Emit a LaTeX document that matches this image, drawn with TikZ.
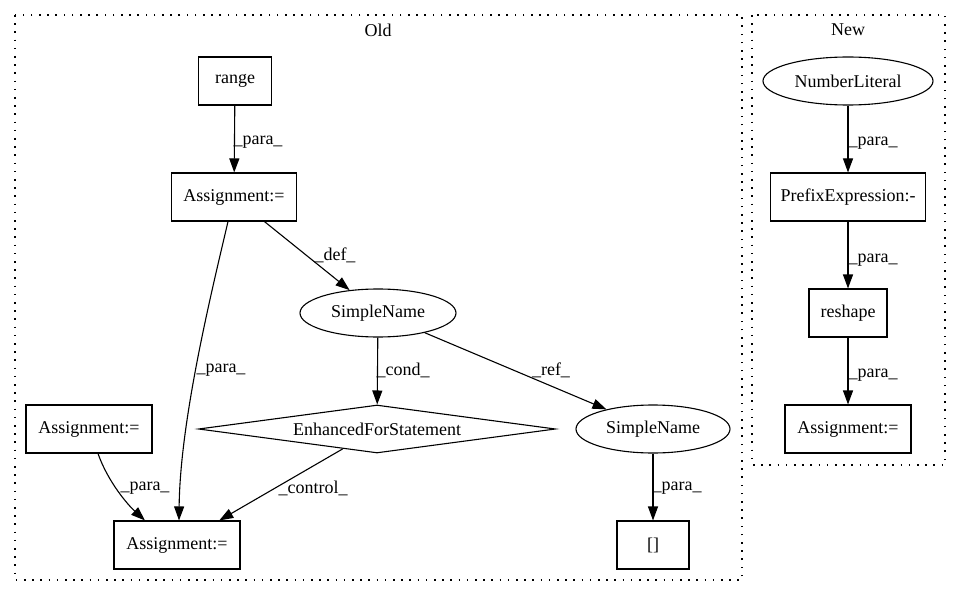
\documentclass[tikz,border=0pt]{standalone}
\usepackage{fontspec}
\setmainfont{Liberation Serif}
\usetikzlibrary{arrows.meta,shapes.geometric}
\begin{document}
\begin{tikzpicture}[x=1pt,y=-1pt,
  every node/.style={font=\fontsize{18}{20}\selectfont},
  box/.style={draw, line width=1.1pt, rectangle, minimum height=48pt, inner sep=0pt},
  ell/.style={draw, line width=1.1pt, ellipse, minimum height=48pt, inner sep=0pt},
  dia/.style={draw, line width=1.1pt, diamond, aspect=7.4, minimum width=357pt, minimum height=48pt, inner sep=0pt},
  edge/.style={line width=1.1pt, -{Triangle[length=14pt,width=10pt]}},
  lbl/.style={inner sep=0pt},
  clus/.style={line width=1.2pt, dash pattern=on 1.6pt off 6.6pt}]
\useasboundingbox (0,0) rectangle (960,596);
% clusters
\draw[clus] (15,15) rectangle (742,580);
\draw[clus] (752,15) rectangle (945,465);
\node[lbl] (oldlbl) at (378,30) {Old};
\node[lbl] (newlbl) at (848,30) {New};
% Old nodes
\node[box, minimum width=73pt] (range) at (235,81) {range};
\node[box, minimum width=125pt] (atop) at (234,197) {Assignment:=};
\node[ell, minimum width=156pt] (sn1) at (378,313) {SimpleName};
\node[dia] (efs) at (377,429) {EnhancedForStatement};
\node[ell, minimum width=154pt] (sn2) at (653,429) {SimpleName};
\node[box, minimum width=126pt] (aleft) at (89,429) {Assignment:=};
\node[box, minimum width=126pt] (abot) at (177,545) {Assignment:=};
\node[box, minimum width=72pt] (idx) at (653,545) {[]};
% New nodes
\node[ell, minimum width=170pt] (numlit) at (848,81) {NumberLiteral};
\node[box, minimum width=155pt] (prefix) at (848,197) {PrefixExpression:-};
\node[box, minimum width=78pt] (reshape) at (848,313) {reshape};
\node[box, minimum width=126pt] (anew) at (848,429) {Assignment:=};
% Old edges
\draw[edge] (range) -- (atop);
\node[lbl] (l1) at (258,142) {\_para\_};
\draw[edge] (atop) -- (sn1);
\node[lbl] (l2) at (335,255) {\_def\_};
\draw[edge] ([xshift=-6pt]atop.south) .. controls (212,290) and (180,420) .. ([xshift=2pt]abot.north);
\node[lbl] (l3) at (221,370) {\_para\_};
\draw[edge] (sn1) -- (efs);
\node[lbl] (l4) at (403,370) {\_cond\_};
\draw[edge] (sn1) -- (sn2);
\node[lbl] (l5) at (551,370) {\_ref\_};
\draw[edge] ([xshift=9pt]aleft.south) .. controls (108,482) and (128,505) .. ([xshift=-32pt]abot.north);
\node[lbl] (l6) at (145,488) {\_para\_};
\draw[edge] (efs) -- (abot);
\node[lbl] (l7) at (313,488) {\_control\_};
\draw[edge] (sn2) -- (idx);
\node[lbl] (l8) at (677,488) {\_para\_};
% New edges
\draw[edge] (numlit) -- (prefix);
\node[lbl] (l9) at (873,143) {\_para\_};
\draw[edge] (prefix) -- (reshape);
\node[lbl] (l10) at (873,260) {\_para\_};
\draw[edge] (reshape) -- (anew);
\node[lbl] (l11) at (873,375) {\_para\_};
\end{tikzpicture}
\end{document}
